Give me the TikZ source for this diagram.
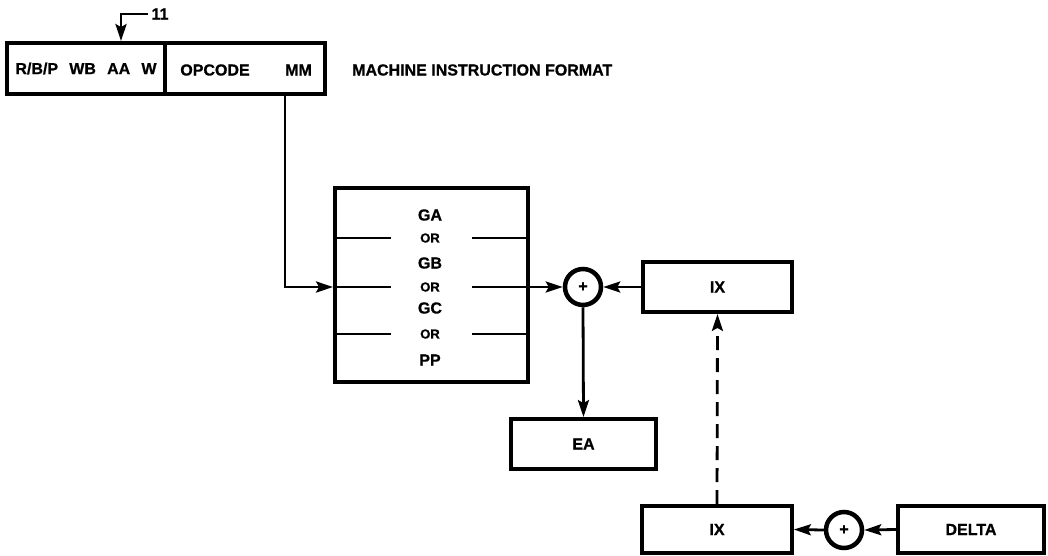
\documentclass[tikz,border=0pt]{standalone}
\usepackage{fontspec}
\setmainfont{Liberation Sans}[BoldFeatures={FakeBold=0.8}]
\usetikzlibrary{arrows.meta}
\begin{document}
\begin{tikzpicture}[x=1pt,y=-1pt,
  box/.style={draw, line width=3.8pt, rectangle, inner sep=0pt},
  lbl/.style={font=\fontsize{16}{18}\selectfont\bfseries, inner sep=0pt},
  sml/.style={font=\fontsize{13}{15}\selectfont\bfseries, inner sep=0pt},
  sumc/.style={draw, circle, line width=4.5pt, minimum size=36pt, inner sep=0pt, font=\fontsize{16}{18}\selectfont\bfseries},
  conn/.style={line width=2.8pt},
  arr/.style={conn, -{Stealth[length=17pt,width=11pt,inset=3pt]}},
]
\useasboundingbox (0,0) rectangle (1048,556);
\fill[white] (0,0) rectangle (1048,556);

% instruction format
\node[box, minimum width=158pt, minimum height=51pt, lbl] (reg) at (86,68.5)
  {R/B/P\hspace{0.7em}WB\hspace{0.7em}AA\hspace{0.7em}W};
\node[box, minimum width=160pt, minimum height=51pt] (op) at (245,68.5) {};
\node[lbl] (opc) at (215,70) {OPCODE};
\node[lbl, anchor=west] (mm) at (285,70) {MM};
\node[lbl, anchor=west] (title) at (352,70) {MACHINE INSTRUCTION FORMAT};

% 11 pointer
\node[lbl] (l11) at (160,14) {11};
\draw[arr] ([xshift=-3pt]l11.west) -| ([xshift=35pt]reg.north);

% selector box
\node[box, minimum width=193pt, minimum height=194pt] (sel) at (431.5,285) {};
\node[lbl] (ga) at (430,215) {GA};
\node[sml] (or1) at (430,238) {OR};
\node[lbl] (gb) at (430,263) {GB};
\node[sml] (or2) at (430,287) {OR};
\node[lbl] (gc) at (430,308) {GC};
\node[sml] (or3) at (430,334) {OR};
\node[lbl] (pp) at (430,360) {PP};
\foreach \r in {or1,or2,or3}{
  \draw[conn] (sel.west |- \r) -- +(58,0);
  \draw[conn] (sel.east |- \r) -- +(-58,0);
}

% adders and registers
\node[sumc] (sum1) at (583,287) {+};
\node[box, minimum width=149pt, minimum height=50pt, lbl] (ix1) at (717.5,287) {IX};
\node[box, minimum width=145pt, minimum height=50pt, lbl] (ea) at (583.5,444) {EA};
\node[box, minimum width=150pt, minimum height=47pt, lbl] (ix2) at (717,529.5) {IX};
\node[sumc] (sum2) at (844,530) {+};
\node[box, minimum width=146pt, minimum height=47pt, lbl] (delta) at (971,529.5) {DELTA};

% connectors
\draw[arr] (mm.west |- op.south) |- (sel.west |- or2);
\draw[arr] (sel.east |- or2) -- (sum1.west);
\draw[arr] (ix1.west) -- (sum1.east);
\draw[arr] (sum1.south) -- (ea.north);
\draw[arr, dash pattern=on 14pt off 8pt] (ix2.north) -- (ix1.south);
\draw[arr] (sum2.west) -- (ix2.east);
\draw[arr] (delta.west) -- (sum2.east);
\end{tikzpicture}
\end{document}
